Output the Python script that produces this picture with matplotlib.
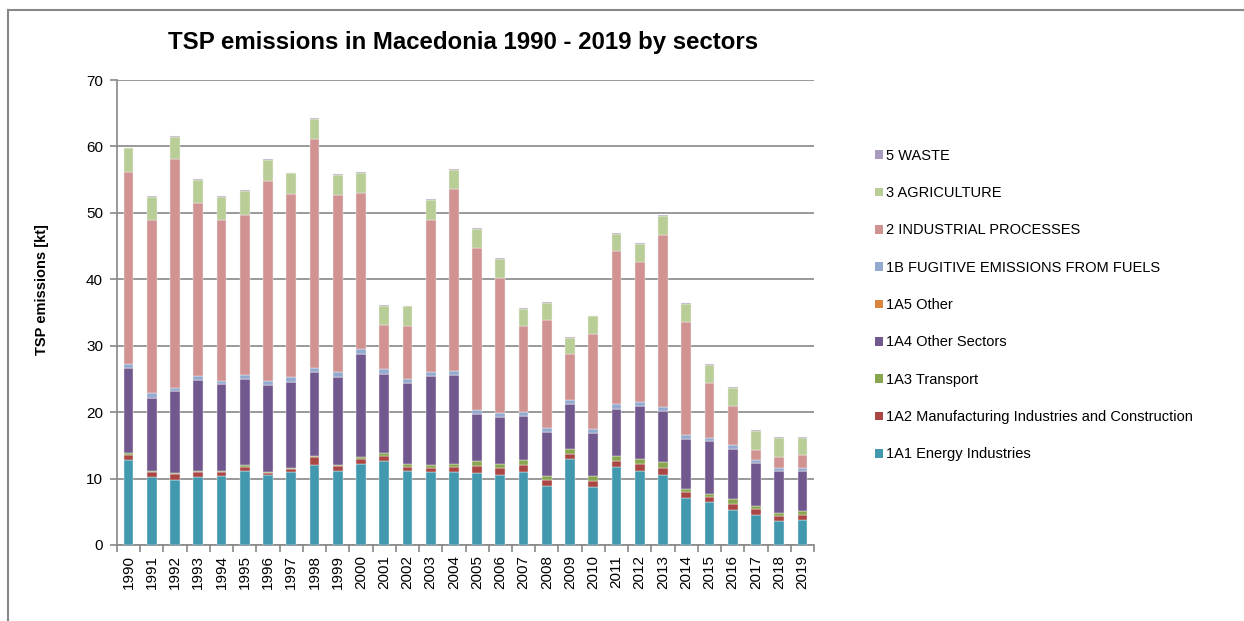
import matplotlib
matplotlib.use("Agg")
import matplotlib.pyplot as plt
from matplotlib.patches import Patch
from matplotlib.lines import Line2D
import numpy as np

plt.rcParams['font.family'] = ['Liberation Sans', 'DejaVu Sans']

years = [str(y) for y in range(1990, 2020)]

energy = [12.74, 10.23, 9.83, 10.18, 10.43, 11.08, 10.58, 10.98, 12.09, 11.08,
          12.24, 12.69, 11.18, 10.93, 10.98, 10.88, 10.58, 10.98, 8.83, 12.99,
          8.68, 11.74, 11.18, 10.58, 7.07, 6.42, 5.22, 4.56, 3.56, 3.71]
manufacturing = [0.85, 0.75, 0.85, 0.75, 0.50, 0.65, 0.25, 0.45, 1.10, 0.76,
                 0.75, 0.65, 0.50, 0.65, 0.70, 1.06, 1.00, 1.11, 1.00, 0.65,
                 1.00, 0.85, 1.06, 1.00, 0.85, 0.75, 1.00, 0.86, 0.75, 0.85]
transport = [0.25, 0.20, 0.15, 0.25, 0.25, 0.25, 0.20, 0.15, 0.25, 0.25,
             0.25, 0.50, 0.56, 0.51, 0.51, 0.65, 0.61, 0.75, 0.60, 0.85,
             0.65, 0.85, 0.75, 0.91, 0.51, 0.55, 0.70, 0.50, 0.50, 0.61]
other_sectors = [12.74, 11.00, 12.29, 13.60, 13.04, 12.98, 12.99, 12.94, 12.54, 13.24,
                 15.50, 11.94, 12.08, 13.34, 13.39, 7.17, 7.02, 6.52, 6.52, 6.72,
                 6.52, 7.07, 7.87, 7.72, 7.57, 7.88, 7.57, 6.42, 6.27, 5.91]
other_1a5 = [0.02] * 30
fugitive = [0.65, 0.67, 0.50, 0.65, 0.50, 0.65, 0.70, 0.71, 0.65, 0.65,
            0.75, 0.70, 0.71, 0.65, 0.65, 0.60, 0.65, 0.65, 0.65, 0.66,
            0.60, 0.70, 0.60, 0.55, 0.60, 0.50, 0.50, 0.50, 0.45, 0.45]
industrial = [28.90, 25.98, 34.45, 26.00, 24.13, 24.12, 30.04, 27.53, 34.45, 26.68,
              23.47, 6.57, 7.87, 22.82, 27.28, 24.27, 20.31, 12.89, 16.30, 6.87,
              14.30, 22.97, 21.07, 25.88, 16.90, 8.22, 5.87, 1.40, 1.71, 1.96]
agriculture = [3.56, 3.51, 3.31, 3.46, 3.51, 3.51, 3.21, 3.16, 3.06, 3.06,
               3.06, 2.96, 3.01, 3.06, 2.96, 2.91, 2.91, 2.66, 2.56, 2.45,
               2.65, 2.61, 2.76, 2.86, 2.76, 2.76, 2.76, 2.91, 2.81, 2.61]
waste = [0.12] * 30

series = [
    ("1A1 Energy Industries", energy, "#4198AF"),
    ("1A2 Manufacturing Industries and Construction", manufacturing, "#AA4643"),
    ("1A3 Transport", transport, "#89A54E"),
    ("1A4 Other Sectors", other_sectors, "#71588F"),
    ("1A5 Other", other_1a5, "#DB843D"),
    ("1B FUGITIVE EMISSIONS FROM FUELS", fugitive, "#93A9CF"),
    ("2 INDUSTRIAL PROCESSES", industrial, "#D19392"),
    ("3 AGRICULTURE", agriculture, "#B9CD96"),
    ("5 WASTE", waste, "#A99BBD"),
]

W, H = 1244, 621
fig = plt.figure(figsize=(W / 100, H / 100), dpi=100)
ax = fig.add_axes([117 / W, 1 - 545 / H, (814 - 117) / W, (545 - 80) / H])

x = np.arange(len(years))
bottom = np.zeros(len(years))
for label, vals, color in series:
    v = np.array(vals)
    ax.bar(x, v, width=0.42, bottom=bottom, color=color, edgecolor="#f4f4f4",
           linewidth=0.3, label=label, zorder=3)
    bottom += v

grid_c = "#888888"
ax.set_ylim(0, 70)
ax.set_xlim(-0.5, len(years) - 0.5)
ax.set_yticks(range(0, 71, 10))
ax.yaxis.grid(True, color=grid_c, linewidth=1.2, zorder=0)
ax.set_axisbelow(True)
for s in ["top", "right"]:
    ax.spines[s].set_visible(False)
for s in ["left", "bottom"]:
    ax.spines[s].set_color(grid_c)
    ax.spines[s].set_linewidth(1.2)

ax.set_xticks(np.arange(-0.5, len(years), 1.0))
ax.set_xticklabels([])
ax.set_xticks(x, minor=True)
ax.set_xticklabels(years, minor=True, rotation=90, fontsize=11)
ax.tick_params(axis="x", which="major", length=5, color=grid_c, width=1.2)
ax.tick_params(axis="x", which="minor", length=0, pad=7)
ax.tick_params(axis="y", length=5, color=grid_c, width=1.2, labelsize=11, pad=5)

fig.text(463 / W, 1 - 43 / H, "TSP emissions in Macedonia 1990 - 2019 by sectors",
         ha="center", va="center", fontsize=17.3, fontweight="bold")
fig.text(42 / W, 1 - 290 / H, "TSP emissions [kt]", rotation=90,
         ha="center", va="center", fontsize=10.5, fontweight="bold")

handles = [Patch(facecolor=c, edgecolor="none", label=l) for l, _, c in reversed(series)]
fig.legend(handles=handles, loc="upper left", bbox_to_anchor=(869 / W, 1 - 143 / H),
           frameon=False, fontsize=10.5, handlelength=0.55, handleheight=0.55,
           handletextpad=0.25, labelspacing=1.6, borderaxespad=0)

# outer chart frame
fig.add_artist(Line2D([8 / W, 1.0], [1 - 10 / H, 1 - 10 / H], color="#888888", linewidth=1.5))
fig.add_artist(Line2D([8 / W, 8 / W], [0.0, 1 - 10 / H], color="#888888", linewidth=1.5))

fig.savefig("out.png", dpi=100)
